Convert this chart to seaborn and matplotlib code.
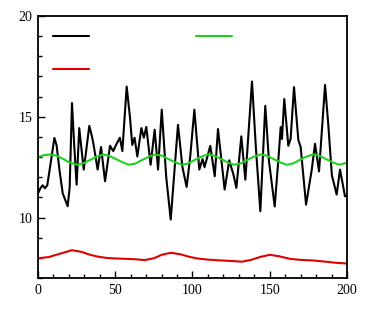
import numpy as np
import pandas as pd
import matplotlib
matplotlib.use('Agg')
import matplotlib.pyplot as plt
from matplotlib.ticker import MultipleLocator
import seaborn as sns

# black series (peaks, troughs and shoulders)
x_black = [0, 1.5, 3, 4.5, 6, 8, 10.6, 12, 14, 16, 19.2, 20.5, 22, 23.5, 25, 26.7, 28, 29.6,
           31, 33.2, 35, 36, 38.6, 40.8, 43.4, 46.6, 48.7, 50.5, 53, 54.6, 57.4, 59.5, 61,
           62.5, 64.3, 66.9, 68.5, 70.1, 72.9, 75.5, 77.7, 80.1, 83, 85.9, 88.5, 90.6, 93.5,
           96.2, 98.5, 101.2, 104.4, 106.5, 107.8, 111.5, 114.4, 116.5, 120.8, 123.8, 126.6,
           128.4, 131.6, 134.2, 138.5, 141, 143.9, 147.1, 149.5, 153.2, 155.5, 157.1, 157.9,
           159.4, 162, 163.5, 165.7, 168.5, 170, 173.5, 177.2, 179.3, 181.9, 185.8, 188,
           190.2, 191.5, 193.3, 195.5, 198.7, 200]
y_black = [11.2, 11.45, 11.6, 11.45, 11.6, 12.6, 13.95, 13.6, 12.3, 11.2, 10.56, 11.5, 15.68,
           13.5, 11.63, 14.44, 13.5, 12.38, 13.2, 14.55, 14.0, 13.6, 12.38, 13.5, 11.8, 13.56,
           13.3, 13.6, 13.96, 13.3, 16.5, 15.0, 13.6, 13.96, 13.03, 14.44, 13.96, 14.5, 12.62,
           14.36, 12.38, 15.35, 12.0, 9.9, 12.5, 14.6, 12.5, 11.52, 13.0, 15.35, 12.38, 12.9,
           12.5, 13.56, 12.05, 14.39, 11.39, 12.84, 12.1, 11.47, 14.03, 11.88, 16.75, 13.5,
           10.31, 15.54, 12.8, 10.55, 12.8, 14.49, 13.9, 15.88, 13.56, 13.9, 16.47, 13.85,
           13.5, 10.64, 12.38, 13.66, 12.29, 16.58, 14.5, 12.1, 11.7, 11.14, 12.38, 11.05, 11.1]

# green series
x_green = [0, 4, 8, 12, 16, 20, 25, 29, 33, 38, 42, 46, 50, 55, 59, 63, 67, 72, 76, 80, 84,
           89, 93, 97, 101, 106, 110, 114, 118, 123, 127, 131, 135, 140, 144, 148, 152, 157,
           161, 165, 169, 174, 178, 182, 186, 191, 195, 200]
y_green = [13.0, 13.1, 13.13, 13.07, 12.92, 12.75, 12.62, 12.68, 12.83, 13.02, 13.13, 13.07,
           12.92, 12.73, 12.62, 12.68, 12.84, 13.03, 13.13, 13.07, 12.92, 12.73, 12.62, 12.68,
           12.84, 13.03, 13.13, 13.07, 12.92, 12.73, 12.62, 12.68, 12.84, 13.03, 13.13, 13.07,
           12.92, 12.73, 12.62, 12.68, 12.84, 13.03, 13.13, 13.07, 12.92, 12.73, 12.62, 12.72]

# red series
x_red = [0, 7, 14, 22, 28, 33, 38, 44, 50, 57, 63, 69, 75, 80, 86, 92, 98, 103, 109, 116,
         124, 132, 138, 144, 150, 156, 163, 170, 178, 185, 192, 200]
y_red = [7.98, 8.04, 8.2, 8.38, 8.3, 8.17, 8.07, 8.0, 7.97, 7.95, 7.93, 7.89, 7.98, 8.15, 8.25,
         8.18, 8.05, 7.97, 7.92, 7.88, 7.85, 7.81, 7.9, 8.05, 8.15, 8.08, 7.95, 7.9, 7.87,
         7.82, 7.76, 7.72]

sns.set_theme(style='ticks')
plt.rcParams['font.family'] = ['Liberation Serif', 'DejaVu Serif']
plt.rcParams['font.size'] = 10

fig = plt.figure(figsize=(3.74, 3.19), dpi=100)
ax = fig.add_axes([0.1016, 0.1285, 0.8262, 0.8213])

sns.lineplot(x=x_black, y=y_black, color='black', lw=1.5, ax=ax)
sns.lineplot(x=x_red, y=y_red, color='#e00000', lw=1.5, ax=ax)
sns.lineplot(x=x_green, y=y_green, color='#20d020', lw=1.5, ax=ax)

ax.set_xlim(0, 200)
ax.set_ylim(7, 20)
ax.xaxis.set_major_locator(MultipleLocator(50))
ax.xaxis.set_minor_locator(MultipleLocator(10))
ax.yaxis.set_major_locator(MultipleLocator(5))
ax.yaxis.set_minor_locator(MultipleLocator(1))
ax.tick_params(which='both', direction='in', top=False, right=False, colors='black',
               labelsize=10, width=1)
ax.tick_params(which='major', length=5, pad=4)
ax.tick_params(which='minor', length=3)
for s in ax.spines.values():
    s.set_linewidth(1.3)
    s.set_color('black')
ax.set_xlabel('')
ax.set_ylabel('')

# legend with blank labels, two columns
lines = ax.get_lines()
ax.legend([lines[0], lines[1], lines[2]], [' ', ' ', ' '], ncol=2, frameon=False,
          loc='upper left', bbox_to_anchor=(0.0485, 0.943), borderpad=0, borderaxespad=0,
          handlelength=2.35, handletextpad=0.8, columnspacing=5.97, labelspacing=1.25)

fig.savefig('out.png', dpi=100)
